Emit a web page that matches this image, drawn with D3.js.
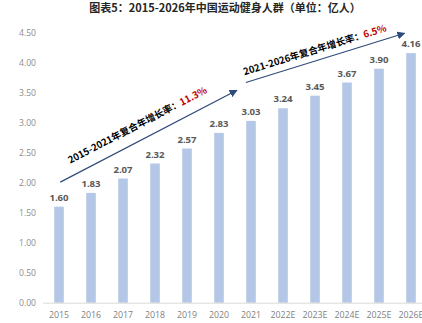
<!DOCTYPE html>
<html>
<head>
<meta charset="utf-8">
<script src="https://cdn.jsdelivr.net/npm/d3@7"></script>
<style>
  html, body { margin: 0; padding: 0; background: #fff; overflow: hidden; }
  svg { display: block; }
</style>
</head>
<body>
<svg id="chart" width="422" height="323"></svg>
<script>
// Sports & fitness population in China, 2015–2026E (unit: 100 million people)
const titleText = "图表5：2015-2026年中国运动健身人群（单位：亿人）";
const years = ["2015", "2016", "2017", "2018", "2019", "2020", "2021", "2022E", "2023E", "2024E", "2025E", "2026E"];
const people = [1.60, 1.83, 2.07, 2.32, 2.57, 2.83, 3.03, 3.24, 3.45, 3.67, 3.90, 4.16];
const yTicks = [0, 0.5, 1, 1.5, 2, 2.5, 3, 3.5, 4, 4.5];

// CAGR annotations: arrows given in (year index, value) units
const cagrLabels = ["2015-2021年复合年增长率：", "2021-2026年复合年增长率："];
const cagrRates = ["11.3%", "6.5%"];
const cagrFrom = [[0.04, 2.01], [5.84, 3.67]];
const cagrTo = [[5.56, 3.54], [10.80, 4.49]];
const cagrTextAt = [0.476, 0.454];
const cagrTextOffset = [15, 10.7];

const svg = d3.select("#chart");
const W = 422, H = 323;
const margin = { left: 43, right: -5, top: 33, bottom: 20 };

const x = d3.scaleBand()
  .domain(years)
  .range([margin.left, W - margin.right])
  .paddingInner(0.7)
  .paddingOuter(0.35);

const y = d3.scaleLinear()
  .domain([0, 4.5])
  .range([302.7, 32.7]);

const xi = d3.scaleLinear()
  .domain([0, years.length - 1])
  .range([x(years[0]) + x.bandwidth() / 2, x(years[years.length - 1]) + x.bandwidth() / 2]);

// Title
svg.append("text")
  .attr("x", 225)
  .attr("y", 12)
  .attr("text-anchor", "middle")
  .style("font-family", "'Noto Sans CJK SC', sans-serif")
  .style("font-weight", "bold")
  .style("font-size", "11px")
  .attr("fill", "#262626")
  .text(titleText);

// Y axis (labels only)
const yAxis = d3.axisLeft(y)
  .tickValues(yTicks)
  .tickFormat(d3.format(".2f"))
  .tickSize(0)
  .tickPadding(7);
const gy = svg.append("g")
  .attr("transform", `translate(${margin.left},0)`)
  .call(yAxis);
gy.select(".domain").remove();
gy.selectAll("text")
  .style("font-family", "'Open Sans', sans-serif")
  .style("font-size", "8.6px")
  .attr("fill", "#8c8c8c");

// Bars
svg.append("g")
  .selectAll("rect")
  .data(people)
  .join("rect")
  .attr("x", (d, i) => x(years[i]))
  .attr("y", d => y(d))
  .attr("width", x.bandwidth())
  .attr("height", d => y(0) - y(d))
  .attr("fill", "#b4c7e7");

// X axis
const xAxis = d3.axisBottom(x).tickSize(0).tickPadding(9);
const gx = svg.append("g")
  .attr("transform", `translate(0,${y(0)})`)
  .call(xAxis);
gx.select(".domain")
  .attr("stroke", "#d9d9d9")
  .attr("d", `M${margin.left},0.5H${W}`);
gx.selectAll("text")
  .style("font-family", "'Open Sans', sans-serif")
  .style("font-size", "8.8px")
  .attr("fill", "#7f7f7f");

// Value labels
svg.append("g")
  .selectAll("text")
  .data(people)
  .join("text")
  .attr("x", (d, i) => x(years[i]) + x.bandwidth() / 2)
  .attr("y", d => y(d) - 6)
  .attr("text-anchor", "middle")
  .style("font-family", "'Open Sans', sans-serif")
  .style("font-weight", "bold")
  .style("font-size", "9.6px")
  .attr("fill", "#595959")
  .text(d => d.toFixed(2));

// Arrow head
svg.append("defs").append("marker")
  .attr("id", "arrowhead")
  .attr("viewBox", "0 0 10 10")
  .attr("refX", 9)
  .attr("refY", 5)
  .attr("markerWidth", 8)
  .attr("markerHeight", 8)
  .attr("markerUnits", "userSpaceOnUse")
  .attr("orient", "auto")
  .append("path")
  .attr("d", "M0,0L10,5L0,10Z")
  .attr("fill", "#2f4b7c");

// CAGR arrows and labels
cagrFrom.forEach((from, k) => {
  const x1 = xi(from[0]), y1 = y(from[1]);
  const x2 = xi(cagrTo[k][0]), y2 = y(cagrTo[k][1]);
  svg.append("line")
    .attr("x1", x1).attr("y1", y1)
    .attr("x2", x2).attr("y2", y2)
    .attr("stroke", "#2f4b7c")
    .attr("stroke-width", 1.2)
    .attr("marker-end", "url(#arrowhead)");

  const len = Math.hypot(x2 - x1, y2 - y1);
  const ux = (x2 - x1) / len, uy = (y2 - y1) / len;
  const nx = uy, ny = -ux; // normal pointing up-left
  const t = cagrTextAt[k];
  const cx = x1 + (x2 - x1) * t + nx * cagrTextOffset[k];
  const cy = y1 + (y2 - y1) * t + ny * cagrTextOffset[k];
  const angle = Math.atan2(y2 - y1, x2 - x1) * 180 / Math.PI;

  const txt = svg.append("text")
    .attr("transform", `translate(${cx},${cy}) rotate(${angle})`)
    .attr("text-anchor", "middle")
    .attr("dy", "0.35em")
    .style("font-family", "'Noto Sans CJK SC', sans-serif")
    .style("font-weight", "bold")
    .style("font-size", "9.6px")
    .attr("fill", "#000");
  txt.append("tspan").text(cagrLabels[k]);
  txt.append("tspan").attr("fill", "#c00000").text(cagrRates[k]);
});
</script>
</body>
</html>
